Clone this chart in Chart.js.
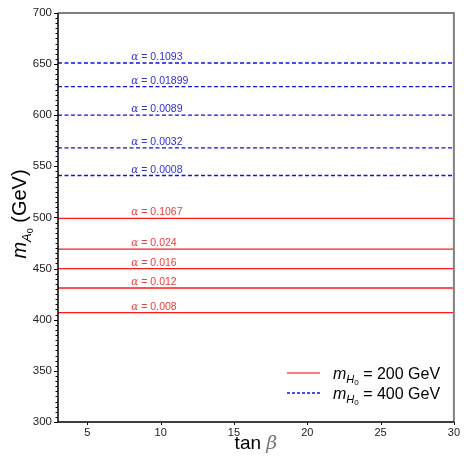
<!DOCTYPE html>
<html>
<head>
<meta charset="utf-8">
<script src="https://cdn.jsdelivr.net/npm/chart.js@4.4.1/dist/chart.umd.min.js"></script>
<style>
  html, body { margin: 0; padding: 0; background: #fff; }
  #wrap { width: 464px; height: 465px; }
</style>
</head>
<body>
<div id="wrap"><canvas id="massChart" width="464" height="465"></canvas></div>
<script>
// m_A0 contours for the two m_H0 benchmarks, with the mixing angle of each line
const redMass = [499, 469, 450, 431, 407];
const redAlpha = ["0.1067", "0.024", "0.016", "0.012", "0.008"];
const blueMass = [651, 628, 600, 568, 541];
const blueAlpha = ["0.1093", "0.01899", "0.0089", "0.0032", "0.0008"];
const tanBetaRange = [3, 30];
const xTicks = [5, 10, 15, 20, 25, 30];
const yTicks = [300, 350, 400, 450, 500, 550, 600, 650, 700];
const labelTanBeta = 8;

const RED = "#ff1a1a";
const BLUE = "#1010e0";
const SANS = "'Liberation Sans', Arial, sans-serif";
const SERIF = "'DejaVu Serif', 'Liberation Serif', serif";

const mkLine = (m, color, dash) => ({
  data: tanBetaRange.map((x) => ({ x: x, y: m })),
  borderColor: color,
  borderWidth: 1.3,
  borderDash: dash,
  pointRadius: 0,
  fill: false,
});

const datasets = [
  ...redMass.map((m) => mkLine(m, RED, [])),
  ...blueMass.map((m) => mkLine(m, BLUE, [4, 2.5])),
];

// draws a run of text pieces (font / vertical offset) one after another
function richText(ctx, x, y, parts, measureOnly) {
  let cx = x;
  parts.forEach((p) => {
    ctx.font = p.font;
    if (!measureOnly) {
      ctx.fillStyle = p.color || ctx.fillStyle;
      ctx.fillText(p.text, cx, y + (p.dy || 0));
    }
    cx += ctx.measureText(p.text).width;
  });
  return cx - x;
}

const decor = {
  id: "decor",
  afterDatasetsDraw(chart) {
    const ctx = chart.ctx;
    const area = chart.chartArea;
    const xs = chart.scales.x;
    const ys = chart.scales.y;
    ctx.save();
    ctx.textBaseline = "alphabetic";
    ctx.textAlign = "left";

    // alpha labels above each line
    const lx = xs.getPixelForValue(labelTanBeta);
    const drawAlpha = (masses, alphas, color) => {
      masses.forEach((m, i) => {
        const py = ys.getPixelForValue(m) - 3;
        richText(ctx, lx, py, [
          { text: "\u03b1", font: "italic 10.5px " + SERIF, color: color },
          { text: " = " + alphas[i], font: "10.5px " + SANS, color: color },
        ]);
      });
    };
    drawAlpha(redMass, redAlpha, "#f03c3c");
    drawAlpha(blueMass, blueAlpha, "#3030d0");

    // frame: grey top/right, black left/bottom
    ctx.strokeStyle = "#808080";
    ctx.lineWidth = 2;
    ctx.beginPath();
    ctx.moveTo(area.left, area.top);
    ctx.lineTo(area.right, area.top);
    ctx.lineTo(area.right, area.bottom);
    ctx.stroke();
    ctx.strokeStyle = "#000";
    ctx.lineWidth = 1.5;
    ctx.beginPath();
    ctx.moveTo(area.left, area.top);
    ctx.lineTo(area.left, area.bottom);
    ctx.lineTo(area.right, area.bottom);
    ctx.stroke();

    // minor ticks on the left axis every 5 GeV
    ctx.lineWidth = 1;
    ctx.beginPath();
    for (let v = 300; v <= 700; v += 5) {
      const py = Math.round(ys.getPixelForValue(v)) + 0.5;
      const len = v % 50 === 0 ? 4 : 2.5;
      ctx.moveTo(area.left - len, py);
      ctx.lineTo(area.left, py);
    }
    // x ticks
    xTicks.forEach((v) => {
      const px = Math.round(xs.getPixelForValue(v)) + 0.5;
      ctx.moveTo(px, area.bottom);
      ctx.lineTo(px, area.bottom + 3);
    });
    ctx.stroke();

    // axis titles
    ctx.fillStyle = "#000";
    const xParts = [
      { text: "tan ", font: "19px " + SANS, color: "#000" },
      { text: "\u03b2", font: "italic 19px " + SERIF, color: "#777" },
    ];
    const xw = richText(ctx, 0, 0, xParts, true);
    richText(ctx, (area.left + area.right) / 2 - xw / 2, 449, xParts);

    const yParts = [
      { text: "m", font: "italic 20px " + SANS, color: "#000" },
      { text: "A", font: "italic 13px " + SANS, dy: 5, color: "#000" },
      { text: "0", font: "9px " + SANS, dy: 7, color: "#000" },
      { text: " (GeV)", font: "20px " + SANS, color: "#000" },
    ];
    const yw = richText(ctx, 0, 0, yParts, true);
    ctx.save();
    ctx.translate(26, 214);
    ctx.rotate(-Math.PI / 2);
    richText(ctx, -yw / 2, 0, yParts);
    ctx.restore();

    // legend
    const legendRow = (y, color, dash, value) => {
      ctx.strokeStyle = color;
      ctx.lineWidth = 1.3;
      ctx.setLineDash(dash);
      ctx.beginPath();
      ctx.moveTo(287, y);
      ctx.lineTo(320, y);
      ctx.stroke();
      ctx.setLineDash([]);
      richText(ctx, 333, y + 6, [
        { text: "m", font: "italic 16px " + SANS, color: "#000" },
        { text: "H", font: "italic 11px " + SANS, dy: 4, color: "#000" },
        { text: "0", font: "8px " + SANS, dy: 6, color: "#000" },
        { text: " = " + value + " GeV", font: "16px " + SANS, color: "#000" },
      ]);
    };
    legendRow(373, "#ff5050", [], "200");
    legendRow(393, BLUE, [3, 2], "400");

    ctx.restore();
  },
};

new Chart(document.getElementById("massChart"), {
  type: "line",
  data: { datasets: datasets },
  plugins: [decor],
  options: {
    responsive: false,
    animation: false,
    layout: { padding: { left: 0, top: 12, right: 8, bottom: 0 } },
    plugins: { legend: { display: false }, tooltip: { enabled: false } },
    scales: {
      x: {
        type: "linear",
        min: tanBetaRange[0],
        max: tanBetaRange[1],
        afterBuildTicks: (s) => { s.ticks = xTicks.map((v) => ({ value: v })); },
        afterFit: (s) => { s.height = 43; },
        grid: { display: false, drawTicks: false },
        border: { display: false },
        ticks: { padding: 4, color: "#222", font: { family: SANS, size: 11 }, maxRotation: 0 },
      },
      y: {
        type: "linear",
        min: 300,
        max: 700,
        afterBuildTicks: (s) => { s.ticks = yTicks.map((v) => ({ value: v })); },
        afterFit: (s) => { s.width = 58; },
        grid: { display: false, drawTicks: false },
        border: { display: false },
        ticks: { padding: 6, color: "#222", font: { family: SANS, size: 11.5 } },
      },
    },
  },
});
</script>
</body>
</html>
